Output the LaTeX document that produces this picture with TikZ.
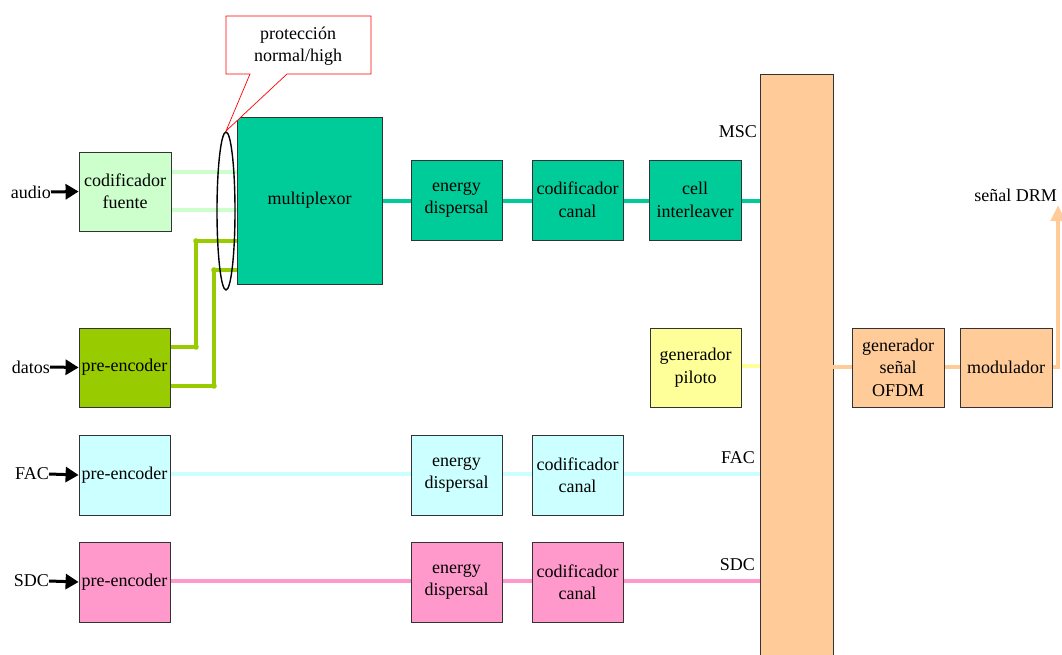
\documentclass[tikz,border=0pt]{standalone}
\usepackage{fontspec}
\setmainfont{Liberation Serif}
\usetikzlibrary{arrows.meta}
\definecolor{lgreen}{HTML}{CCFFCC}
\definecolor{dgreen}{HTML}{99CC00}
\definecolor{teal2}{HTML}{00CC99}
\definecolor{orng}{HTML}{FFCC99}
\definecolor{cyan2}{HTML}{CCFFFF}
\definecolor{pink2}{HTML}{FF99CC}
\definecolor{yell}{HTML}{FFFF99}
\definecolor{edge}{HTML}{333333}
\begin{document}
\begin{tikzpicture}[x=1pt,y=-1pt,
  every node/.style={font=\fontsize{18}{22.5}\selectfont, inner sep=0pt},
  blk/.style={draw=edge, line width=0.8pt, align=center},
  sig/.style={line width=4pt},
  inarrow/.style={line width=3pt, -{Triangle[length=13pt,width=15pt]}},
  lbl/.style={anchor=east}]
\useasboundingbox (0,0) rectangle (1062,655);
% helper: box by corners
\newcommand{\blkbox}[7]{\node[blk, fill=#6, minimum width=#4pt-#2pt, minimum height=#5pt-#3pt] (#1) at ({(#2+#4)/2},{(#3+#5)/2}) {#7};}
% big bar first
\node[blk, fill=orng, minimum width=73pt, minimum height=600pt, anchor=north west] (bar) at (760,74) {};
% lines behind boxes
\coordinate (facend) at (760,474);
\coordinate (sdcend) at (760,581);
\draw[sig, cyan2] (170,474) -- (facend);
\draw[sig, pink2] (170,581) -- (sdcend);
\draw[sig, teal2] (382,201) -- (760,201);
\draw[sig, yell] (741,366) -- (760,366);
\draw[sig, orng] (833,367) -- (852,367);
\draw[sig, orng] (944,367) -- (960,367);
\draw[sig, orng, -{Triangle[length=16pt,width=14pt]}] (1052,367) -- (1058,367) -- (1058,205);
% audio lines
\draw[sig, lgreen] (171,172) -- (237,172);
\draw[sig, lgreen] (171,210) -- (237,210);
% data green lines
\draw[sig, dgreen, line join=round] (170,347) -- (196,347) -- (196,241) -- (237,241);
\draw[sig, dgreen, line join=round] (170,386) -- (214,386) -- (214,270) -- (237,270);
\fill[dgreen] (196,347) circle (2.8) (196,241) circle (2.8) (214,386) circle (2.8) (214,270) circle (2.8);
% boxes
\blkbox{cf}{79}{152}{171}{231}{lgreen}{codificador\\fuente}
\blkbox{mux}{237}{117}{382}{284}{teal2}{multiplexor}
\blkbox{ed1}{411}{160}{502}{240}{teal2}{energy\\dispersal}
\blkbox{cc1}{532}{160}{623}{240}{teal2}{codificador\\canal}
\blkbox{ci}{649}{160}{741}{240}{teal2}{cell\\interleaver}
\blkbox{pe1}{79}{328}{170}{407}{dgreen}{pre-encoder}
\blkbox{gp}{650}{328}{741}{407}{yell}{generador\\piloto}
\blkbox{ofdm}{852}{328}{944}{407}{orng}{generador\\señal\\OFDM}
\blkbox{mod}{960}{328}{1052}{407}{orng}{modulador}
\blkbox{pe2}{79}{435}{170}{515}{cyan2}{pre-encoder}
\blkbox{ed2}{411}{435}{502}{515}{cyan2}{energy\\dispersal}
\blkbox{cc2}{532}{435}{623}{515}{cyan2}{codificador\\canal}
\blkbox{pe3}{79}{542}{170}{622}{pink2}{pre-encoder}
\blkbox{ed3}{411}{542}{502}{622}{pink2}{energy\\dispersal}
\blkbox{cc3}{532}{542}{623}{622}{pink2}{codificador\\canal}
% inputs
\node[lbl] (audio) at (51,192) {audio};
\node[lbl] (datos) at (50,367) {datos};
\node[lbl] (fac) at (49,474) {FAC};
\node[lbl] (sdc) at (49,581) {SDC};
\draw[inarrow] (audio.east) -- (cf.west);
\draw[inarrow] (datos.east) -- (pe1.west);
\draw[inarrow] (fac.east) -- (pe2.west);
\draw[inarrow] (sdc.east) -- (pe3.west);
% labels
\node[lbl] (msc) at (757,132) {MSC};
\node[lbl] (facl) at (755,458) {FAC};
\node[lbl] (sdcl) at (755,565) {SDC};
\node[lbl] (drm) at (1057,195) {señal DRM};
% ellipse
\draw[line width=1.4pt] (226,211) ellipse [x radius=9, y radius=79];
% callout
\draw[red, line width=0.7pt, fill=white] (226,16) -- (371,16) -- (371,74) -- (287,74) -- (226,131) -- (250,74) -- (226,74) -- cycle;
\node[align=center] (prot) at (298,46) {protección\\normal/high};
\end{tikzpicture}
\end{document}
